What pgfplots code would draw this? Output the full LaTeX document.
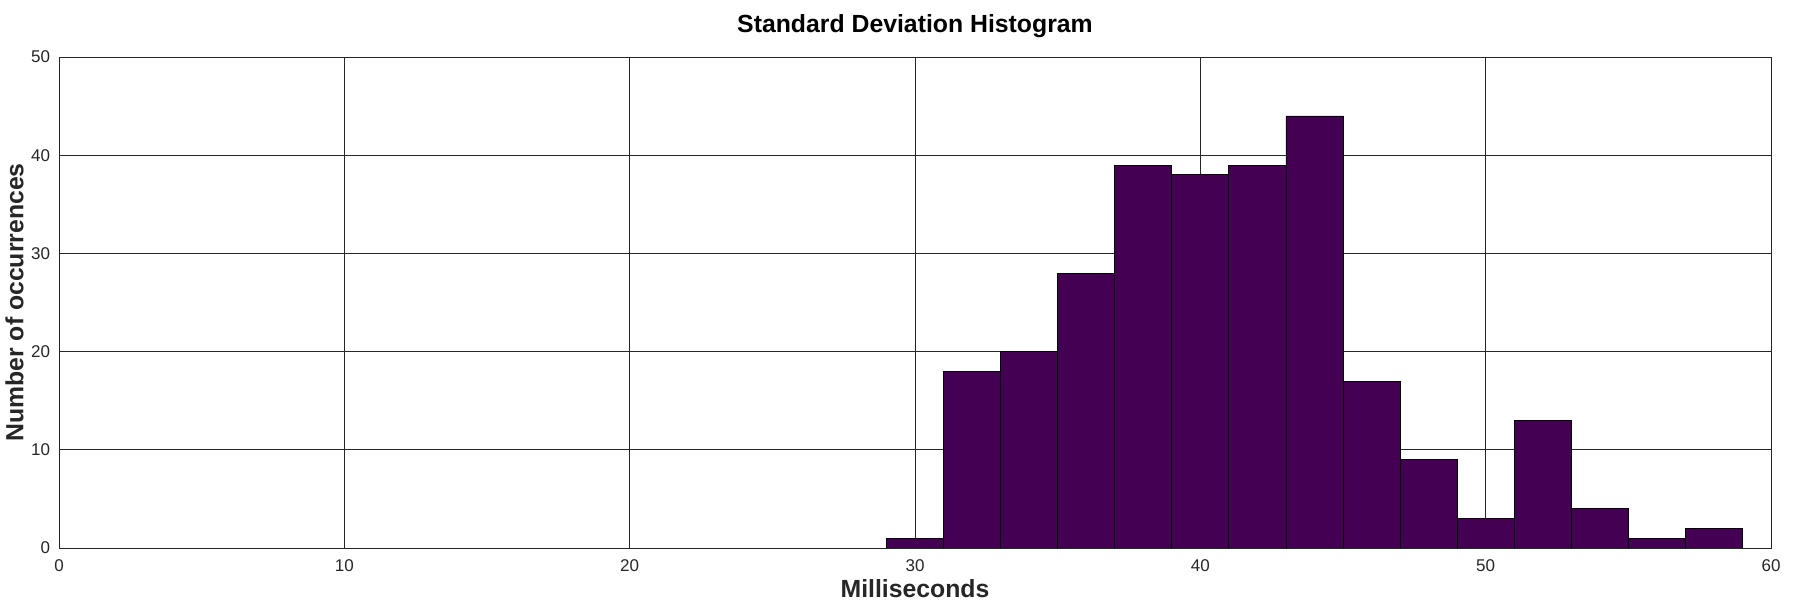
\documentclass[border=0pt]{standalone}
\usepackage{pgfplots}
\pgfplotsset{compat=1.18}
\usepackage{fontspec}
\setmainfont{Liberation Sans}
\definecolor{barc}{HTML}{440154}
\definecolor{txt}{HTML}{262626}
\begin{document}
\begin{tikzpicture}
\begin{axis}[
  scale only axis,
  width=856bp, height=245.5bp,
  xmin=0, xmax=60, ymin=0, ymax=50,
  xtick={0,10,...,60}, ytick={0,10,...,50},
  grid=major,
  major grid style={draw=black!85, line width=0.5bp},
  axis line style={draw=black!85, line width=0.5bp},
  major tick length=0pt,
  tick label style={font=\fontsize{8.5bp}{10bp}\selectfont, text=txt},
  /pgf/number format/assume math mode=true,
  xticklabel style={anchor=base, yshift=-11.5bp},
  yticklabel style={anchor=east, xshift=-1bp},
]
\addplot[ybar interval, fill=barc, draw=black, line width=0.4bp] coordinates {
(29,1) (31,18) (33,20) (35,28) (37,39) (39,38) (41,39) (43,44) (45,17) (47,9) (49,3) (51,13) (53,4) (55,1) (57,2) (59,2)
};
\end{axis}
\node[anchor=base, font=\bfseries\fontsize{12.4bp}{15bp}\selectfont, text=black] at (428bp,257.5bp) {Standard Deviation Histogram};
\node[anchor=base, font=\bfseries\fontsize{12.4bp}{15bp}\selectfont, text=txt] at (428bp,-24.5bp) {Milliseconds};
\node[anchor=base, rotate=90, font=\bfseries\fontsize{12.4bp}{15bp}\selectfont, text=txt] at (-17.8bp,122.75bp) {Number of occurrences};
\pgfresetboundingbox
\path (-29.5bp,-26bp) rectangle (870.5bp,274bp);
\end{tikzpicture}
\end{document}
